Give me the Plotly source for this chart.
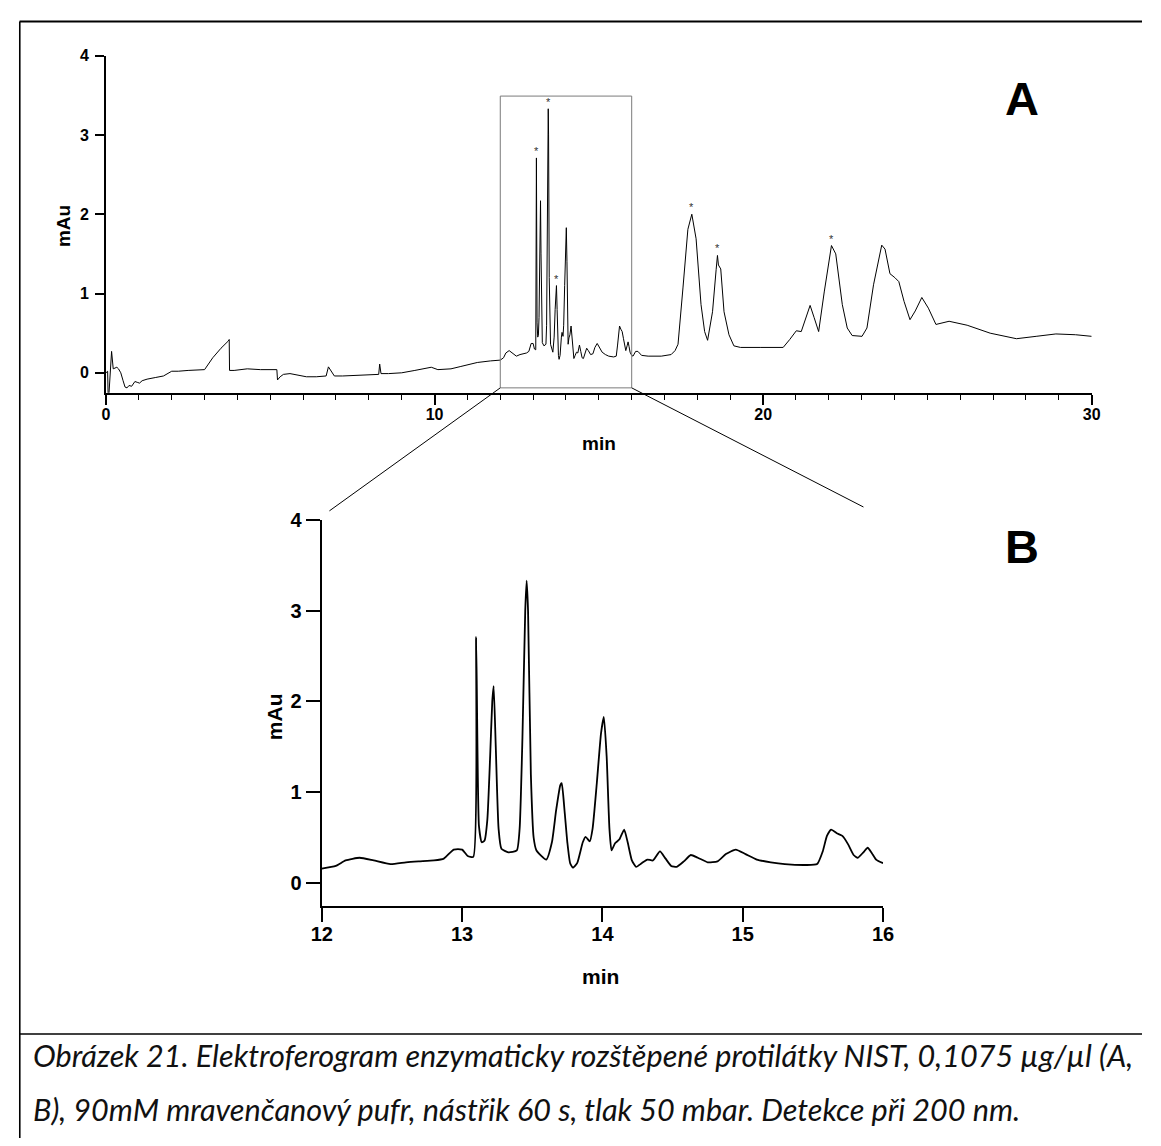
import plotly.graph_objects as go

# ---------------- data ----------------
time_min = [
    0.00, 0.05, 0.07, 0.12, 0.17, 0.22, 0.28, 0.33, 0.38, 0.45, 0.52, 0.58, 0.64, 0.70, 0.78,
    0.88, 0.95, 1.02, 1.10, 1.25, 1.50, 1.75, 2.00, 2.20, 2.50, 3.00, 3.25, 3.50, 3.72, 3.75,
    3.76, 3.90, 4.30, 4.70, 5.20, 5.22, 5.30, 5.40, 5.60, 5.90, 6.10, 6.40, 6.70, 6.77, 6.85,
    6.95, 7.20, 7.60, 8.00, 8.30, 8.33, 8.37, 8.60, 9.00, 9.40, 9.90, 10.10, 10.50, 10.80, 11.30,
    11.70,
    12.00, 12.10, 12.17, 12.27, 12.37, 12.49, 12.60, 12.69, 12.80, 12.87, 12.94, 13.00, 13.04, 13.08,
    13.10, 13.12, 13.14, 13.16, 13.18, 13.20, 13.215, 13.225, 13.24, 13.26, 13.28, 13.33, 13.39,
    13.41, 13.43, 13.45, 13.46, 13.47, 13.49, 13.51, 13.53, 13.60, 13.64, 13.67, 13.70, 13.71,
    13.73, 13.75, 13.77, 13.79, 13.82, 13.86, 13.88, 13.91, 13.93, 13.96, 13.99, 14.01, 14.03,
    14.05, 14.065, 14.09, 14.12, 14.155, 14.18, 14.21, 14.24, 14.28, 14.32, 14.36, 14.41, 14.45,
    14.49, 14.53, 14.58, 14.63, 14.68, 14.75, 14.82, 14.88, 14.95, 15.02, 15.10, 15.20, 15.30,
    15.45, 15.53, 15.57, 15.60, 15.63, 15.67, 15.71, 15.75, 15.79, 15.82, 15.86, 15.89, 15.92,
    15.95, 16.00,
    16.04, 16.12, 16.19, 16.30, 16.50, 16.90, 17.20, 17.32, 17.41, 17.56, 17.71, 17.83, 17.96,
    18.11, 18.22, 18.31, 18.46, 18.57, 18.61, 18.64, 18.71, 18.81, 18.96, 19.11, 19.31, 19.91,
    20.31, 20.61, 20.81, 21.01, 21.16, 21.30, 21.43, 21.55, 21.69, 21.86, 22.08, 22.21, 22.41,
    22.56, 22.71, 23.01, 23.16, 23.36, 23.61, 23.71, 23.86, 24.01, 24.13, 24.29, 24.47, 24.63,
    24.83, 25.03, 25.26, 25.66, 26.21, 26.91, 27.71, 28.31, 28.91, 29.51, 30.00,
]
signal_mau = [
    0.00, 0.02, -0.40, -0.05, 0.27, 0.05, 0.06, 0.07, 0.05, 0.00, -0.10, -0.18, -0.19, -0.16, -0.17,
    -0.11, -0.12, -0.13, -0.10, -0.08, -0.06, -0.04, 0.02, 0.02, 0.03, 0.04, 0.19, 0.31, 0.40, 0.42,
    0.03, 0.03, 0.05, 0.04, 0.04, -0.09, -0.05, -0.02, -0.01, -0.03, -0.05, -0.05, -0.04, 0.075, 0.03,
    -0.04, -0.04, -0.03, -0.02, -0.02, 0.11, -0.01, -0.01, 0.00, 0.03, 0.07, 0.04, 0.05, 0.08, 0.13,
    0.15,
    0.16, 0.19, 0.25, 0.28, 0.25, 0.21, 0.23, 0.24, 0.25, 0.27, 0.37, 0.37, 0.30, 0.29,
    2.71, 0.63, 0.45, 0.47, 0.70, 1.40, 2.00, 2.17, 1.50, 0.60, 0.38, 0.34, 0.36,
    0.60, 1.60, 3.00, 3.33, 3.00, 1.20, 0.50, 0.36, 0.26, 0.45, 0.80, 1.08, 1.10,
    0.80, 0.45, 0.22, 0.17, 0.22, 0.45, 0.51, 0.46, 0.60, 1.10, 1.65, 1.83, 1.40,
    0.60, 0.36, 0.44, 0.48, 0.59, 0.45, 0.25, 0.18, 0.22, 0.26, 0.25, 0.35, 0.27,
    0.19, 0.18, 0.24, 0.31, 0.28, 0.23, 0.24, 0.32, 0.37, 0.32, 0.26, 0.23, 0.21,
    0.20, 0.21, 0.35, 0.52, 0.59, 0.55, 0.52, 0.43, 0.31, 0.28, 0.34, 0.39, 0.33,
    0.26, 0.22,
    0.21, 0.27, 0.27, 0.22, 0.21, 0.21, 0.23, 0.28, 0.36, 1.07, 1.81, 2.00, 1.69,
    0.86, 0.52, 0.41, 0.77, 1.30, 1.48, 1.36, 1.31, 0.77, 0.48, 0.34, 0.32, 0.32,
    0.32, 0.32, 0.42, 0.53, 0.52, 0.70, 0.85, 0.70, 0.52, 1.02, 1.605, 1.50, 0.86,
    0.565, 0.47, 0.46, 0.565, 1.11, 1.61, 1.56, 1.25, 1.20, 1.15, 0.90, 0.67, 0.78,
    0.95, 0.815, 0.61, 0.65, 0.60, 0.50, 0.43, 0.46, 0.49, 0.48, 0.46,
]
star_times = [13.10, 13.46, 13.71, 17.83, 18.61, 22.08]   # peaks marked with *

x_ticks_A = [0, 10, 20, 30]
y_ticks = [0, 1, 2, 3, 4]
x_ticks_B = [12, 13, 14, 15, 16]
zoom_window = [12, 16]          # minutes shown in panel B
zoom_box_mau = [-0.19, 3.49]    # vertical extent of the box drawn in A

caption_1 = "Obrázek 21. Elektroferogram enzymaticky rozštěpené protilátky NIST, 0,1075 µg/µl (A,"
caption_2 = "B), 90mM mravenčanový pufr, nástřik 60 s, tlak 50 mbar. Detekce při 200 nm."

# ---------------- layout helpers (page pixels; body has an 8px margin) ----------------
OFF = 8
W, H = 1161 - 2 * OFF, 1146 - 2 * OFF
def px(x):
    return (x - OFF) / W
def py(y):
    return 1 - (y - OFF) / H

A_x = (96.7, 1101.7)
A_y = (385.3, 45.0)     # bottom, top (pixels)
B_x = (316.7, 889.0)
B_y = (903.6, 513.7)

FONT = "Liberation Sans, Arial, sans-serif"

fig = go.Figure()
fig.add_trace(go.Scatter(x=time_min, y=signal_mau, mode="lines",
                         line=dict(color="black", width=1), xaxis="x", yaxis="y",
                         hoverinfo="skip", showlegend=False))
tB = [t for t in time_min if zoom_window[0] - 0.01 <= t <= zoom_window[1] + 0.01]
vB = [v for t, v in zip(time_min, signal_mau) if zoom_window[0] - 0.01 <= t <= zoom_window[1] + 0.01]
fig.add_trace(go.Scatter(x=tB, y=vB, mode="lines",
                         line=dict(color="black", width=1.8, shape="spline", smoothing=0.5),
                         xaxis="x2", yaxis="y2", hoverinfo="skip", showlegend=False))

axis_common = dict(showgrid=False, zeroline=False, showline=True, linecolor="black",
                   ticks="outside", tickcolor="black")

fig.update_layout(
    width=W, height=H, margin=dict(l=0, r=0, t=0, b=0),
    paper_bgcolor="white", plot_bgcolor="white",
    xaxis=dict(**axis_common, domain=[px(A_x[0]), px(A_x[1])], range=[0, 30],
               anchor="y", linewidth=2, tickwidth=1.5, ticklen=10,
               tickvals=x_ticks_A, ticktext=[str(v) for v in x_ticks_A],
               tickfont=dict(family=FONT, size=16, color="black", weight="bold"),
               ticklabelstandoff=-4,
               minor=dict(dtick=1, ticks="outside", ticklen=5, tickwidth=1.2,
                          tickcolor="black", showgrid=False)),
    yaxis=dict(**axis_common, domain=[py(A_y[0]), py(A_y[1])], range=[-0.25, 4],
               anchor="x", linewidth=2, tickwidth=1.5, ticklen=9,
               tickvals=y_ticks, ticktext=[str(v) for v in y_ticks],
               ticklabelstandoff=3,
               tickfont=dict(family=FONT, size=16, color="black", weight="bold")),
    xaxis2=dict(**axis_common, domain=[px(B_x[0]), px(B_x[1])], range=[12, 16],
                anchor="y2", linewidth=2.2, tickwidth=2, ticklen=14,
                tickvals=x_ticks_B, ticktext=[str(v) for v in x_ticks_B],
                tickfont=dict(family=FONT, size=20, color="black", weight="bold"),
                ticklabelstandoff=-5),
    yaxis2=dict(**axis_common, domain=[py(B_y[0]), py(B_y[1])], range=[-0.25, 4],
                anchor="x2", linewidth=2.2, tickwidth=2, ticklen=14,
                tickvals=y_ticks, ticktext=[str(v) for v in y_ticks],
                tickfont=dict(family=FONT, size=20, color="black", weight="bold")),
)

annotations = []
# asterisks over marked peaks
for t in star_times:
    v = signal_mau[time_min.index(t)]
    annotations.append(dict(x=t, y=v, xref="x", yref="y", text="*", showarrow=False,
                            xanchor="center", yanchor="bottom", yshift=-1,
                            font=dict(family=FONT, size=11, color="#333333")))

def label(x, y, text, size, angle=0):
    return dict(x=px(x), y=py(y), xref="paper", yref="paper", text=text, showarrow=False,
                xanchor="center", yanchor="middle", textangle=angle,
                font=dict(family=FONT, size=size, color="black", weight="bold"))

annotations += [
    label(599, 437, "min", 19),
    label(54, 217, "mAu", 19, -90),
    label(601, 975, "min", 21),
    label(268, 713, "mAu", 21, -90),
    label(1031, 88, "A", 47),
    label(1031, 541, "B", 47),
    dict(x=px(20), y=py(1055), xref="paper", yref="paper", text="<i>" + caption_1 + "</i>",
         showarrow=False, xanchor="left", yanchor="middle",
         font=dict(family="Lato", size=30.6, color="#111111")),
    dict(x=px(20), y=py(1109), xref="paper", yref="paper", text="<i>" + caption_2 + "</i>",
         showarrow=False, xanchor="left", yanchor="middle",
         font=dict(family="Lato", size=30.6, color="#111111")),
]
fig.update_layout(annotations=annotations)

# zoom box in panel A and connectors to panel B
def ax_A(t):
    return px(A_x[0] + (t - 0) / 30 * (A_x[1] - A_x[0]))
def ay_A(v):
    return py(A_y[0] + (v + 0.25) / 4.25 * (A_y[1] - A_y[0]))

shapes = [
    dict(type="rect", xref="x", yref="y", x0=zoom_window[0], x1=zoom_window[1],
         y0=zoom_box_mau[0], y1=zoom_box_mau[1], line=dict(color="#7a7a7a", width=1)),
    dict(type="line", xref="paper", yref="paper",
         x0=ax_A(zoom_window[0]), y0=ay_A(zoom_box_mau[0]), x1=px(324.5), y1=py(504.7),
         line=dict(color="black", width=1)),
    dict(type="line", xref="paper", yref="paper",
         x0=ax_A(zoom_window[1]), y0=ay_A(zoom_box_mau[0]), x1=px(869), y1=py(500.8),
         line=dict(color="black", width=1)),
    # page frame
    dict(type="line", xref="paper", yref="paper", x0=px(8.6), y0=py(10.5), x1=1, y1=py(10.5),
         line=dict(color="black", width=2)),
    dict(type="line", xref="paper", yref="paper", x0=px(8.8), y0=py(10.5), x1=px(8.8), y1=0,
         line=dict(color="black", width=1.6)),
    dict(type="line", xref="paper", yref="paper", x0=px(8.6), y0=py(1033), x1=1, y1=py(1033),
         line=dict(color="black", width=1.5)),
]
fig.update_layout(shapes=shapes)

fig.write_html("out.html", config={"displayModeBar": False})
